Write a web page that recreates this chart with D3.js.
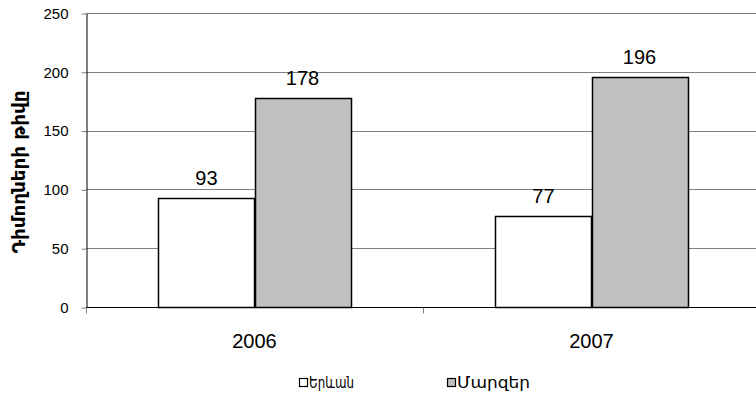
<!DOCTYPE html>
<html>
<head>
<meta charset="utf-8">
<script src="https://cdn.jsdelivr.net/npm/d3@7"></script>
<style>
  html, body { margin: 0; padding: 0; background: #fff; }
  svg { display: block; }
</style>
</head>
<body>
<svg id="chart" width="756" height="395"></svg>
<script>
// Applicants by year, Yerevan vs. regions
const years = ["2006", "2007"];
const seriesNames = ["Երևան", "Մարզեր"];
const yerevan = [93, 77];
const regions = [178, 196];
const yTicks = [0, 50, 100, 150, 200, 250];
const yTitle = "Դիմողների թիվը";

const colors = ["#ffffff", "#c0c0c0"];
const svg = d3.select("#chart");

const plot = { left: 86, right: 760, top: 13, bottom: 307 };

const x0 = d3.scaleBand().domain(years).range([plot.left, plot.right]).paddingInner(0).paddingOuter(0);
const x1 = d3.scaleBand().domain(seriesNames).range([0, x0.bandwidth()]).paddingInner(0).paddingOuter(0.755);
const y = d3.scaleLinear().domain([0, 250]).range([plot.bottom, plot.top]);

// gridlines
svg.append("g").selectAll("line").data(yTicks.filter(d => d > 0)).join("line")
  .attr("x1", plot.left).attr("x2", plot.right)
  .attr("y1", d => Math.round(y(d)) + 0.5).attr("y2", d => Math.round(y(d)) + 0.5)
  .attr("stroke", "#808080").attr("stroke-width", 1);

// y axis
const yAxis = svg.append("g")
  .attr("transform", `translate(${plot.left + 0.5},0.5)`)
  .call(d3.axisLeft(y).tickValues(yTicks).tickSize(5).tickPadding(13).tickSizeOuter(0));
yAxis.select(".domain").attr("stroke", "#000");
yAxis.selectAll(".tick line").attr("stroke", "#808080");
yAxis.selectAll(".tick text").attr("font-family", "Liberation Sans, Arial, sans-serif")
  .attr("font-size", 15).attr("fill", "#000");

// bars
const rows = years.map((yr, i) => ({ year: yr, values: [yerevan[i], regions[i]] }));
const groups = svg.append("g").selectAll("g").data(rows).join("g")
  .attr("transform", d => `translate(${x0(d.year)},0)`);

groups.selectAll("rect").data(d => d.values.map((v, k) => ({ name: seriesNames[k], v, k }))).join("rect")
  .attr("x", d => Math.round(x1(d.name)) + 0.5)
  .attr("y", d => Math.round(y(d.v)) + 0.5)
  .attr("width", Math.round(x1.bandwidth()))
  .attr("height", d => Math.round(y(0)) - Math.round(y(d.v)))
  .attr("fill", d => colors[d.k])
  .attr("stroke", "#000").attr("stroke-width", 1.5);

groups.selectAll("text").data(d => d.values.map((v, k) => ({ name: seriesNames[k], v }))).join("text")
  .attr("x", d => x1(d.name) + x1.bandwidth() / 2)
  .attr("y", d => y(d.v) - 13)
  .attr("text-anchor", "middle")
  .attr("font-family", "Liberation Sans, Arial, sans-serif")
  .attr("font-size", 20).attr("fill", "#000")
  .text(d => d.v);

// x axis
const xAxis = svg.append("g")
  .attr("transform", `translate(0,${Math.round(y(0)) + 0.5})`);
xAxis.append("line").attr("x1", plot.left).attr("x2", plot.right)
  .attr("stroke", "#000").attr("stroke-width", 1);
xAxis.selectAll("line.tk").data([plot.left, plot.left + x0.bandwidth(), plot.right]).join("line")
  .attr("class", "tk")
  .attr("x1", d => Math.round(d) + 0.5).attr("x2", d => Math.round(d) + 0.5)
  .attr("y1", 0).attr("y2", 6).attr("stroke", "#808080");
xAxis.selectAll("text").data(years).join("text")
  .attr("x", d => x0(d) + x0.bandwidth() / 2)
  .attr("y", 40)
  .attr("text-anchor", "middle")
  .attr("font-family", "Liberation Sans, Arial, sans-serif")
  .attr("font-size", 20).attr("fill", "#000")
  .text(d => d);

// y title
svg.append("text")
  .attr("transform", "translate(25,172) rotate(-90)")
  .attr("text-anchor", "middle")
  .attr("font-family", "DejaVu Sans, sans-serif")
  .attr("font-weight", "bold")
  .attr("font-size", 17).attr("fill", "#000")
  .attr("textLength", 163).attr("lengthAdjust", "spacingAndGlyphs")
  .text(yTitle);

// legend
const legendX = [299, 447];
const legendLen = [45, 73];
const legend = svg.append("g").selectAll("g").data(seriesNames).join("g")
  .attr("transform", (d, i) => `translate(${legendX[i]},378)`);
legend.append("rect").attr("x", 0.5).attr("y", 0.5).attr("width", 8).attr("height", 8)
  .attr("fill", (d, i) => colors[i]).attr("stroke", "#000").attr("stroke-width", 1.2);
legend.append("text").attr("x", 10).attr("y", 10)
  .attr("font-family", "DejaVu Sans, sans-serif")
  .attr("font-size", 16).attr("fill", "#000")
  .attr("textLength", (d, i) => legendLen[i]).attr("lengthAdjust", "spacingAndGlyphs")
  .text(d => d);
</script>
</body>
</html>
